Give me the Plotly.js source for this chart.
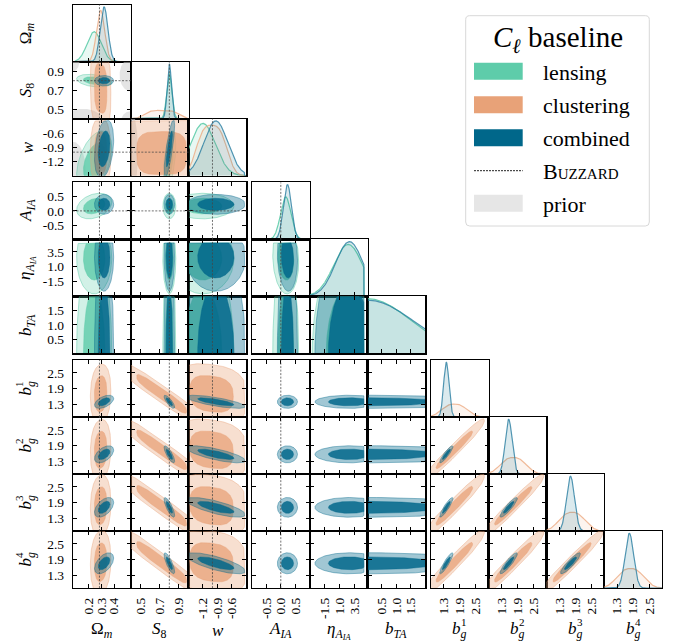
<!DOCTYPE html>
<html><head><meta charset="utf-8">
<script src="https://cdn.plot.ly/plotly-3.0.1.min.js"></script>
<style>body{margin:0;background:#fff}#plot{width:675px;height:643px}</style>
</head><body><div id="plot"></div>
<script>
// ---------------- DATA ----------------
const paramLabels = ['Ω<sub><i>m</i></sub>','<i>S</i><sub>8</sub>','<i>w</i>','<i>A</i><sub><i>IA</i></sub>',
  '<i>η</i><sub><i>A</i><sub><i>IA</i></sub></sub>','<i>b</i><sub><i>TA</i></sub>',
  '<i>b</i><sub><i>g</i></sub>','<i>b</i><sub><i>g</i></sub>','<i>b</i><sub><i>g</i></sub>','<i>b</i><sub><i>g</i></sub>'];
const paramSup = ['','','','','','','1','2','3','4'];
const axisRanges = [[0.08,0.53],[0.4,1.0],[-1.5,-0.29],[-1.0,1.0],[-4.0,5.6],[0.0,2.0],[0.82,2.98],[0.82,2.98],[0.82,2.98],[0.82,2.98]];
const tickValues = [[0.2,0.3,0.4],[0.5,0.7,0.9],[-1.2,-0.9,-0.6],[-0.5,0.0,0.5],[-1.5,1.0,3.5],[0.5,1.0,1.5],[1.3,1.9,2.5],[1.3,1.9,2.5],[1.3,1.9,2.5],[1.3,1.9,2.5]];
const tickLabels = [['0.2','0.3','0.4'],['0.5','0.7','0.9'],['-1.2','-0.9','-0.6'],['-0.5','0.0','0.5'],['-1.5','1.0','3.5'],['0.5','1.0','1.5'],['1.3','1.9','2.5'],['1.3','1.9','2.5'],['1.3','1.9','2.5'],['1.3','1.9','2.5']];
const priorLow  = [0.1, 0.3, -2.0, -5.0, -5.0, 0.0, 0.8, 0.8, 0.8, 0.8];
const priorHigh = [0.9, 1.3, -0.33, 5.0, 5.0, 2.0, 3.0, 3.0, 3.0, 3.0];
const buzzardTruth = [0.286, 0.80, -1.0, 0.0, null, null, null, null, null, null];

// lensing posterior summary
const lensingMean  = [0.245, 0.800, -1.20, 0.17, 2.4, 0.0, null, null, null, null];
const lensingSigma = [0.055, 0.027, 0.26, 0.18, 2.4, 1.5, null, null, null, null];
const lensingShape = [2, 2, 2, 2, 2, 2, null, null, null, null];
const lensingCorr  = [[0,1,-0.3],[0,2,0.45],[1,2,0.55],[0,3,0.3],[3,4,-0.1]];

// clustering posterior summary
const clusteringMean  = [0.295, 0.72, -1.02, null, null, null, 1.70, 1.74, 1.78, 1.80];
const clusteringSigma = [0.032, 0.17, 0.30, null, null, null, 0.45, 0.46, 0.47, 0.48];
const clusteringShape = [2, 4, 3, null, null, null, 2.5, 2.5, 2.5, 2.5];
const clusteringCorr  = [[0,1,-0.1],[1,6,-0.95],[1,7,-0.95],[1,8,-0.95],[1,9,-0.95],
  [6,7,0.97],[6,8,0.96],[6,9,0.96],[7,8,0.97],[7,9,0.96],[8,9,0.97],
  [2,6,-0.15],[2,7,-0.15],[2,8,-0.15],[2,9,-0.15],[0,6,0.1],[0,7,0.1],[0,8,0.1],[0,9,0.1]];

// combined posterior summary
const combinedMean  = [0.322, 0.800, -0.93, 0.23, 2.6, 0.0, 1.40, 1.57, 1.72, 1.76];
const combinedSigma = [0.030, 0.022, 0.25, 0.14, 2.3, 1.6, 0.10, 0.13, 0.15, 0.16];
const combinedShape = [2, 2, 2, 2, 2, 2, 2, 2, 2, 2];
const combinedCorr  = [[0,1,0.0],[0,2,0.3],[1,2,0.8],
  [0,6,0.5],[0,7,0.5],[0,8,0.5],[0,9,0.5],
  [1,6,-0.8],[1,7,-0.8],[1,8,-0.8],[1,9,-0.8],
  [2,6,-0.75],[2,7,-0.75],[2,8,-0.75],[2,9,-0.75],
  [6,7,0.9],[6,8,0.9],[6,9,0.9],[7,8,0.9],[7,9,0.9],[8,9,0.9],[3,4,-0.1]];

// prior regions shown in the cosmology block (param x, param y, centre, spread)
const priorPairX = [0, 0, 0, 0, 0, 1];
const priorPairY = [1, 1, 1, 1, 2, 2];
const priorCenX  = [0.08, 0.53, 0.16, 0.53, 0.08, 0.40];
const priorCenY  = [1.00, 0.86, 0.38, 0.38, -1.40, -1.00];
const priorSdX   = [0.02, 0.035, 0.06, 0.03, 0.04, 0.03];
const priorSdY   = [0.04, 0.07, 0.05, 0.04, 0.25, 0.35];

const legendTitle = '<i>C</i><sub><i>ℓ</i></sub> baseline';
const legendLabels = ['lensing','clustering','combined','B<span style="font-size:15px">UZZARD</span>','prior'];

// ---------------- STYLE ----------------
const FONT = '"Liberation Serif", "Times New Roman", Times, serif';
const probes = [
  {mean:lensingMean, sigma:lensingSigma, shape:lensingShape, corr:lensingCorr, rgb:'94,204,170', aOut:0.28, aIn:0.80, aLine:0.55, aFill1:0.14, line1:'rgba(94,204,170,0.9)'},
  {mean:clusteringMean, sigma:clusteringSigma, shape:clusteringShape, corr:clusteringCorr, rgb:'232,162,120', aOut:0.35, aIn:0.75, aLine:0.45, aFill1:0.12, line1:'rgba(236,170,130,0.8)'},
  {mean:combinedMean, sigma:combinedSigma, shape:combinedShape, corr:combinedCorr, rgb:'0,103,138', aOut:0.37, aIn:0.84, aLine:0.45, aFill1:0.14, line1:'rgba(40,125,160,0.8)'}
];
const R68 = 1.52, R95 = 2.49;
const N = 10;
const W = 57.8, H = 57.0, X0 = 73, Y0 = 4.7, GX = 5.5, GY = 6.7;
function colLeft(j){ return X0 + j*W + (j>=3?GX:0) + (j>=6?GX:0); }
function rowTop(i){ return Y0 + i*H + (i>=3?GY:0) + (i>=6?GY:0); }
const px2x = p => p/675, py2y = p => 1 - p/643;

function getCorr(list, a, b){
  for (const c of list){ if ((c[0]===a&&c[1]===b)||(c[0]===b&&c[1]===a)) return c[2]; }
  return 0;
}
function clamp(v, lo, hi){ return Math.max(lo, Math.min(hi, v)); }
function contourPts(mx,my,sx,sy,rho,p,r,bx,by){
  const xs=[], ys=[]; const c=Math.sqrt(1-rho*rho); const n=160;
  for(let k=0;k<=n;k++){
    const t=2*Math.PI*k/n, ct=Math.cos(t), st=Math.sin(t);
    const u=r*Math.sign(ct)*Math.pow(Math.abs(ct),2/p);
    const v=r*Math.sign(st)*Math.pow(Math.abs(st),2/p);
    xs.push(clamp(mx+sx*u, bx[0], bx[1]));
    ys.push(clamp(my+sy*(rho*u+c*v), by[0], by[1]));
  }
  return [xs, ys];
}
function pdfFactory(m,s,p,lo,hi){
  const a=Math.max(lo,m-10*s), b=Math.min(hi,m+10*s); const n=4000; let area=0;
  const f = x => (x<lo||x>hi)?0:Math.exp(-0.5*Math.pow(Math.abs((x-m)/s),p));
  for(let k=0;k<n;k++){ const x0=a+(b-a)*k/n, x1=a+(b-a)*(k+1)/n; area+=0.5*(f(x0)+f(x1))*(x1-x0); }
  return x => f(x)/area;
}

// ---------------- BUILD ----------------
const traces = [], shapes = [], annotations = [];
const layout = {width:675, height:643, margin:{l:0,r:0,t:0,b:0}, showlegend:false,
  paper_bgcolor:'#fff', plot_bgcolor:'rgba(0,0,0,0)', font:{family:FONT, color:'#000'}};
let k = 0;
for (let i=0;i<N;i++){
  for (let j=0;j<=i;j++){
    k++;
    const xa='x'+(k===1?'':k), ya='y'+(k===1?'':k);
    const xk='xaxis'+(k===1?'':k), yk='yaxis'+(k===1?'':k);
    const xl=colLeft(j), yt=rowTop(i);
    const common = {showline:true, linecolor:'#000', linewidth:1.2, showgrid:false, zeroline:false,
      tickfont:{family:FONT, size:13.5, color:'#000'}, ticklen:4, tickwidth:1, tickcolor:'#000'};
    layout[xk] = Object.assign({}, common, {domain:[px2x(xl), px2x(xl+W)], anchor:ya, range:axisRanges[j],
      tickmode:'array', tickvals:tickValues[j], ticktext:tickLabels[j], ticks:'inside',
      mirror: i===j ? true : 'allticks', showticklabels: i===N-1, tickangle:-90, ticklabelstandoff:3});
    if (i===j){
      let ymax = 0; const [lo,hi]=axisRanges[j]; const xs=[];
      for(let q=0;q<=400;q++) xs.push(lo+(hi-lo)*q/400);
      probes.forEach(pr=>{
        if (pr.mean[j]===null) return;
        const f = pdfFactory(pr.mean[j], pr.sigma[j], pr.shape[j], priorLow[j], priorHigh[j]);
        const ys = xs.map(f); ymax=Math.max(ymax, ...ys);
        traces.push({type:'scatter', mode:'lines', x:xs, y:ys, xaxis:xa, yaxis:ya, fill:'tozeroy',
          fillcolor:'rgba('+pr.rgb+','+pr.aFill1+')', line:{color:pr.line1, width:1.2}, hoverinfo:'skip'});
      });
      layout[yk] = Object.assign({}, common, {domain:[py2y(yt+H), py2y(yt)], anchor:xa, range:[0, ymax*1.04],
        showticklabels:false, ticks:'', mirror:true});
    } else {
      layout[yk] = Object.assign({}, common, {domain:[py2y(yt+H), py2y(yt)], anchor:xa, range:axisRanges[i],
        tickmode:'array', tickvals:tickValues[i], ticktext:tickLabels[i], ticks:'inside', mirror:'allticks',
        showticklabels: j===0, ticklabelstandoff:5});
      for (let q=0;q<priorPairX.length;q++){
        if (priorPairX[q]!==j || priorPairY[q]!==i) continue;
        const [px,py] = contourPts(priorCenX[q],priorCenY[q],priorSdX[q],priorSdY[q],0,2,R95,[-9,9],[-9,9]);
        traces.push({type:'scatter', mode:'lines', x:px, y:py, xaxis:xa, yaxis:ya, fill:'toself',
          fillcolor:'rgba(205,205,205,0.55)', line:{width:0}, hoverinfo:'skip'});
      }
      probes.forEach(pr=>{
        if (pr.mean[i]===null || pr.mean[j]===null) return;
        const rho = getCorr(pr.corr, i, j);
        const p = (pr.shape[i]+pr.shape[j])/2;
        [[R95,pr.aOut],[R68,pr.aIn]].forEach(([r,a])=>{
          const [cx,cy] = contourPts(pr.mean[j], pr.mean[i], pr.sigma[j], pr.sigma[i], rho, p, r,
            [priorLow[j],priorHigh[j]], [priorLow[i],priorHigh[i]]);
          traces.push({type:'scatter', mode:'lines', x:cx, y:cy, xaxis:xa, yaxis:ya, fill:'toself',
            fillcolor:'rgba('+pr.rgb+','+a+')', line:{color:'rgba('+pr.rgb+','+pr.aLine+')', width:0.9}, hoverinfo:'skip'});
        });
      });
      if (buzzardTruth[i]!==null){
        shapes.push({type:'line', xref:xa+' domain', yref:ya, x0:0, x1:1, y0:buzzardTruth[i], y1:buzzardTruth[i],
          line:{color:'rgba(70,70,70,0.85)', width:0.9, dash:'2px,1.5px'}});
      }
    }
    if (buzzardTruth[j]!==null){
      shapes.push({type:'line', xref:xa, yref:ya+' domain', x0:buzzardTruth[j], x1:buzzardTruth[j], y0:0, y1:1,
        line:{color:'rgba(70,70,70,0.85)', width:0.9, dash:'2px,1.5px'}});
    }
  }
}
// axis titles (superscript of b_g stacked above the g)
for (let q=0;q<N;q++){
  const cy = rowTop(q)+H/2, cx = colLeft(q)+W/2;
  annotations.push({xref:'paper', yref:'paper', x:px2x(27), y:py2y(cy), text:paramLabels[q], textangle:-90,
    showarrow:false, font:{family:FONT, size:17}, xanchor:'center', yanchor:'middle'});
  annotations.push({xref:'paper', yref:'paper', x:px2x(cx), y:py2y(630), text:paramLabels[q],
    showarrow:false, font:{family:FONT, size:17}, xanchor:'center', yanchor:'middle'});
  if (paramSup[q]){
    annotations.push({xref:'paper', yref:'paper', x:px2x(19), y:py2y(cy-4.5), text:paramSup[q], textangle:-90,
      showarrow:false, font:{family:FONT, size:11}, xanchor:'center', yanchor:'middle'});
    annotations.push({xref:'paper', yref:'paper', x:px2x(cx+4.5), y:py2y(622), text:paramSup[q],
      showarrow:false, font:{family:FONT, size:11}, xanchor:'center', yanchor:'middle'});
  }
}
// legend
function roundRectPath(x0,y0,x1,y1,r){
  const P=(x,y)=>px2x(x)+','+py2y(y);
  return 'M'+P(x0+r,y0)+' L'+P(x1-r,y0)+' Q'+P(x1,y0)+' '+P(x1,y0+r)+' L'+P(x1,y1-r)+' Q'+P(x1,y1)+' '+P(x1-r,y1)+
    ' L'+P(x0+r,y1)+' Q'+P(x0,y1)+' '+P(x0,y1-r)+' L'+P(x0,y0+r)+' Q'+P(x0,y0)+' '+P(x0+r,y0)+' Z';
}
shapes.push({type:'path', xref:'paper', yref:'paper', path:roundRectPath(465.7,15.7,649.3,226,4),
  fillcolor:'rgba(255,255,255,0.85)', line:{color:'#d8d8d8', width:1}});
annotations.push({xref:'paper', yref:'paper', x:px2x(557.5), y:py2y(39), text:legendTitle,
  showarrow:false, font:{family:FONT, size:29}, xanchor:'center', yanchor:'middle'});
const legendY = [71.3, 104.7, 137.7, 170.7, 203.3];
const legendSwatch = ['rgb(94,204,170)','rgb(232,162,120)','rgb(0,103,138)',null,'rgb(230,230,230)'];
legendY.forEach((yc,q)=>{
  if (legendSwatch[q]) shapes.push({type:'rect', xref:'paper', yref:'paper', x0:px2x(474), x1:px2x(522.7),
    y0:py2y(yc+8.5), y1:py2y(yc-8.5), fillcolor:legendSwatch[q], line:{width:0}});
  else shapes.push({type:'line', xref:'paper', yref:'paper', x0:px2x(474), x1:px2x(522.7), y0:py2y(yc), y1:py2y(yc),
    line:{color:'#222', width:1, dash:'2px,1px'}});
  annotations.push({xref:'paper', yref:'paper', x:px2x(541), y:py2y(yc+1), text:legendLabels[q], showarrow:false,
    font:{family:FONT, size:22}, xanchor:'left', yanchor:'middle'});
});
layout.shapes = shapes; layout.annotations = annotations;
Plotly.newPlot('plot', traces, layout, {staticPlot:true});
</script></body></html>
